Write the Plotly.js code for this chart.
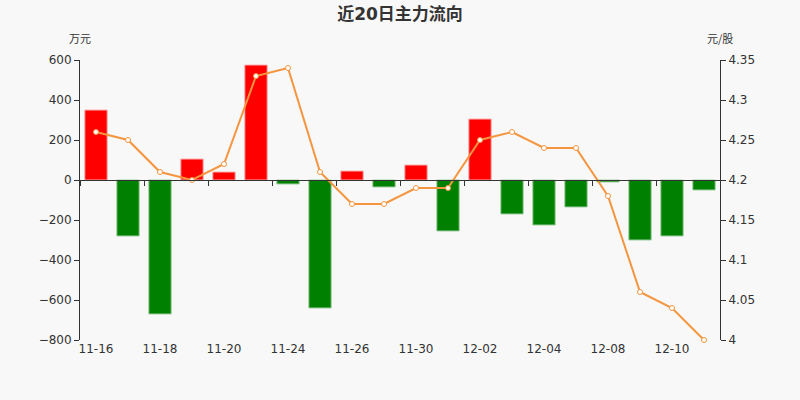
<!DOCTYPE html>
<html>
<head>
<meta charset="utf-8">
<script src="https://cdn.plot.ly/plotly-3.0.1.min.js"></script>
<style>
  html, body { margin: 0; padding: 0; background: #f8f8f8; }
  #chart { width: 800px; height: 400px; }
</style>
</head>
<body>
<div id="chart"></div>
<script>
'use strict'
/* global Plotly */

// trading days shown (every other one is labelled)
const days = ['11-16', '11-17', '11-18', '11-19', '11-20', '11-23', '11-24', '11-25', '11-26', '11-27',
  '11-30', '12-01', '12-02', '12-03', '12-04', '12-07', '12-08', '12-09', '12-10', '12-11']
// main capital net flow, 万元
const flow = [350, -280, -670, 105, 40, 575, -20, -640, 45, -35,
  75, -255, 305, -170, -225, -135, -10, -300, -280, -50]
// close price, 元/股
const price = [4.26, 4.25, 4.21, 4.20, 4.22, 4.33, 4.34, 4.21, 4.17, 4.17,
  4.19, 4.19, 4.25, 4.26, 4.24, 4.24, 4.18, 4.06, 4.04, 4.00]

const leftRange = [-800, 600]
const rightRange = [4, 4.35]
// where 0 sits on the left axis, as a fraction of the plot height
const zeroPos = (0 - leftRange[0]) / (leftRange[1] - leftRange[0])

const barColors = flow.map(v => v >= 0 ? '#ff0000' : '#008000')
const barEdges = flow.map(v => v >= 0 ? '#ffb3b3' : '#9fd09f')

const bars = {
  type: 'bar',
  x: days,
  y: flow,
  xaxis: 'x',
  yaxis: 'y',
  width: 0.7,
  marker: {color: barColors, line: {color: barEdges, width: 1}},
  hoverinfo: 'x+y'
}

const line = {
  type: 'scatter',
  mode: 'lines+markers',
  x: days,
  y: price,
  xaxis: 'x2',
  yaxis: 'y2',
  line: {color: '#f5953f', width: 2},
  marker: {size: 5, color: '#ffffff', line: {color: '#f5953f', width: 1}},
  cliponaxis: false,
  hoverinfo: 'x+y'
}

const tickFont = {family: 'DejaVu Sans, sans-serif', size: 12, color: '#333333'}

const layout = {
  width: 800,
  height: 400,
  margin: {l: 80, r: 80, t: 60, b: 60},
  paper_bgcolor: '#f8f8f8',
  plot_bgcolor: '#f8f8f8',
  showlegend: false,
  bargap: 0.3,
  title: {
    text: '<b>近20日主力流向</b>',
    x: 0.5,
    xanchor: 'center',
    y: 0.965,
    yanchor: 'middle',
    font: {family: 'DejaVu Sans, Noto Sans CJK SC, sans-serif', size: 17, color: '#333333'}
  },
  // bottom axis: labels only
  xaxis: {
    type: 'category',
    range: [-0.5, days.length - 0.5],
    dtick: 2,
    showline: false,
    ticks: '',
    showgrid: false,
    zeroline: false,
    tickfont: tickFont,
    anchor: 'y',
    fixedrange: true
  },
  // axis line along zero with boundary ticks
  xaxis2: {
    type: 'category',
    overlaying: 'x',
    anchor: 'free',
    position: zeroPos,
    side: 'bottom',
    range: [-0.5, days.length - 0.5],
    dtick: 2,
    tickson: 'boundaries',
    ticks: 'outside',
    ticklen: 5,
    tickcolor: '#333333',
    showline: true,
    linecolor: '#333333',
    linewidth: 1,
    showticklabels: false,
    showgrid: false,
    zeroline: false,
    fixedrange: true
  },
  yaxis: {
    range: leftRange,
    dtick: 200,
    showline: true,
    linecolor: '#333333',
    ticks: 'outside',
    ticklen: 5,
    tickcolor: '#333333',
    showgrid: false,
    zeroline: false,
    tickfont: tickFont,
    fixedrange: true
  },
  yaxis2: {
    range: rightRange,
    dtick: 0.05,
    overlaying: 'y',
    side: 'right',
    anchor: 'x',
    showline: true,
    linecolor: '#333333',
    ticks: 'outside',
    ticklen: 5,
    tickcolor: '#333333',
    showgrid: false,
    zeroline: false,
    tickfont: tickFont,
    fixedrange: true
  },
  annotations: [
    {text: '万元', xref: 'paper', yref: 'paper', x: 0, y: 1, yshift: 22,
      xanchor: 'center', yanchor: 'middle', showarrow: false,
      font: {family: 'Noto Sans CJK SC, sans-serif', size: 11, color: '#333333'}},
    {text: '元/股', xref: 'paper', yref: 'paper', x: 1, y: 1, yshift: 22,
      xanchor: 'center', yanchor: 'middle', showarrow: false,
      font: {family: 'Noto Sans CJK SC, sans-serif', size: 11, color: '#333333'}}
  ]
}

const config = {displayModeBar: false, staticPlot: true}

Plotly.newPlot('chart', [bars, line], layout, config)
</script>
</body>
</html>
